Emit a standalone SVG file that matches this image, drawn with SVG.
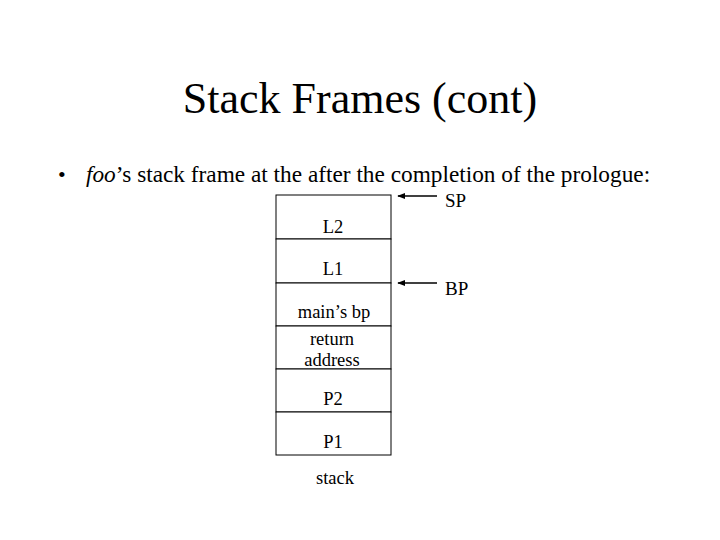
<svg xmlns="http://www.w3.org/2000/svg" width="720" height="540" viewBox="0 0 720 540">
<style>
text{font-family:"Liberation Serif","Times New Roman",serif;fill:#000}
.lbl{font-size:18.5px;text-anchor:middle}
.cell{fill:#fff;stroke:#000;stroke-width:1}
.arr{stroke:#000;stroke-width:1.6;fill:none}
</style>
<defs>
<marker id="ah" viewBox="0 0 10 10" refX="9" refY="5" markerWidth="5" markerHeight="5" orient="auto"><path d="M0,1 L10,5 L0,9 z" fill="#000"/></marker>
</defs>
<rect width="720" height="540" fill="#fff"/>
<text x="360" y="113" font-size="44" text-anchor="middle">Stack Frames (cont)</text>
<text x="58" y="182" font-size="22">•</text>
<text x="86" y="182" font-size="23.3"><tspan font-style="italic">foo</tspan>’s stack frame at the after the completion of the prologue:</text>
<g id="n-L2"><rect class="cell" x="276" y="195" width="115" height="44"/><text class="lbl" x="333" y="233">L2</text></g>
<g id="n-L1"><rect class="cell" x="276" y="239" width="115" height="44"/><text class="lbl" x="333" y="275">L1</text></g>
<g id="n-mainbp"><rect class="cell" x="276" y="283" width="115" height="43"/><text class="lbl" x="334" y="318">main’s bp</text></g>
<g id="n-ret"><rect class="cell" x="276" y="326" width="115" height="43"/><text class="lbl" x="332" y="345">return</text><text class="lbl" x="332" y="366">address</text></g>
<g id="n-P2"><rect class="cell" x="276" y="369" width="115" height="43"/><text class="lbl" x="333" y="405">P2</text></g>
<g id="n-P1"><rect class="cell" x="276" y="412" width="115" height="43"/><text class="lbl" x="333" y="448">P1</text></g>
<g id="n-stack"><text class="lbl" x="335" y="484">stack</text></g>
<g id="n-SP"><text x="445" y="207" font-size="19">SP</text></g>
<g id="n-BP"><text x="445" y="295" font-size="19">BP</text></g>
<g id="connectors">
<line class="arr" x1="437" y1="196" x2="398" y2="196" marker-end="url(#ah)"/>
<line class="arr" x1="437" y1="283" x2="398" y2="283" marker-end="url(#ah)"/>
</g>
</svg>
